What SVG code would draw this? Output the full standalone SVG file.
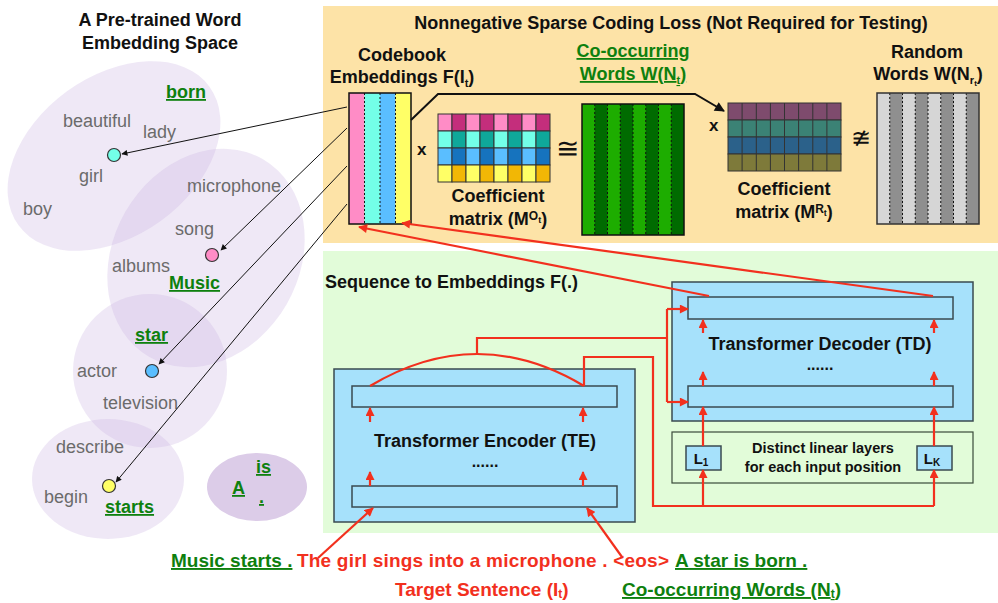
<svg xmlns="http://www.w3.org/2000/svg" width="998" height="603" viewBox="0 0 998 603">
<defs>
<style>
text{font-family:"Liberation Sans",Arial,Helvetica,sans-serif;}
.b{font-weight:bold;fill:#111;}
.t18{font-size:18px;}
.gw{font-size:18px;fill:#6b6b6b;}
.gb{font-size:18px;font-weight:bold;fill:#0e800e;text-decoration:underline;}
.red{fill:#f2301e;font-weight:bold;}
.ell{fill:#c9b3e0;fill-opacity:0.3;}
.dot{stroke:#333;stroke-width:1.2;}
.cell{stroke:#333;stroke-width:1;}
.sep{stroke:#111;stroke-width:1;stroke-dasharray:2,2;}
.box{fill:#a6e1fb;stroke:#3a4a50;stroke-width:1.5;}
.rl{fill:none;stroke:#f2301e;stroke-width:2.2;}
.bl{fill:none;stroke:#111;stroke-width:1;}
</style>
<marker id="ra" viewBox="0 0 10 10" refX="9" refY="5" markerUnits="userSpaceOnUse" markerWidth="10" markerHeight="9" orient="auto"><path d="M0,0L10,5L0,10z" fill="#f2301e"/></marker>
<marker id="ba" viewBox="0 0 10 10" refX="9" refY="5" markerUnits="userSpaceOnUse" markerWidth="7" markerHeight="6" orient="auto"><path d="M0,0L10,5L0,10z" fill="#111"/></marker>
<marker id="bA" viewBox="0 0 10 10" refX="9" refY="5" markerUnits="userSpaceOnUse" markerWidth="11" markerHeight="10" orient="auto"><path d="M0,0L10,5L0,10z" fill="#111"/></marker>
</defs>
<rect width="998" height="603" fill="#fff"/>

<g id="panel-nsc">
<rect x="323" y="6" width="675" height="237" fill="#fde3a7"/>
<text class="b t18" x="671" y="29" text-anchor="middle">Nonnegative Sparse Coding Loss (Not Required for Testing)</text>
</g>
<g id="panel-seq">
<rect x="323" y="251" width="675" height="282" fill="#e2fcd9"/>
<text class="b t18" x="325" y="288">Sequence to Embeddings F(.)</text>
</g>

<g id="embedding-space">
<text class="b t18" x="160" y="26" text-anchor="middle">A Pre-trained Word</text>
<text class="b t18" x="160" y="49" text-anchor="middle">Embedding Space</text>
<ellipse class="ell" cx="114" cy="156" rx="118" ry="80" transform="rotate(-36 114 156)"/>
<ellipse class="ell" cx="206" cy="258" rx="114" ry="93" transform="rotate(-60 206 258)"/>
<circle class="ell" cx="150" cy="371" r="77"/>
<ellipse class="ell" cx="108" cy="479" rx="76" ry="60"/>
<ellipse cx="257" cy="487" rx="50" ry="34" fill="#dccce8"/>
<text class="gb" x="166" y="98">born</text>
<text class="gw" x="63" y="127">beautiful</text>
<text class="gw" x="143" y="138">lady</text>
<text class="gw" x="79" y="182">girl</text>
<text class="gw" x="23" y="215">boy</text>
<text class="gw" x="187" y="192">microphone</text>
<text class="gw" x="175" y="235">song</text>
<text class="gw" x="112" y="272">albums</text>
<text class="gb" x="169" y="289">Music</text>
<text class="gb" x="135" y="341">star</text>
<text class="gw" x="77" y="377">actor</text>
<text class="gw" x="103" y="409">television</text>
<text class="gw" x="56" y="453">describe</text>
<text class="gw" x="44" y="503">begin</text>
<text class="gb" x="105" y="513">starts</text>
<text class="gb" x="256" y="473">is</text>
<text class="gb" x="232" y="494">A</text>
<text class="gb" x="259" y="503">.</text>
<circle class="dot" cx="114" cy="155" r="6.5" fill="#73ffe8"/>
<circle class="dot" cx="212" cy="255" r="6.5" fill="#ff8cc6"/>
<circle class="dot" cx="152" cy="371" r="6.5" fill="#5abeff"/>
<circle class="dot" cx="109" cy="486" r="6.5" fill="#ffff66"/>
</g>

<g id="codebook">
<text class="b t18" x="402" y="61" text-anchor="middle">Codebook</text>
<text class="b t18" x="402" y="83" text-anchor="middle">Embeddings F(I<tspan font-size="11" dy="4">t</tspan><tspan dy="-4">)</tspan></text>
<rect x="349" y="93" width="15.5" height="131" fill="#ff8cc6"/>
<rect x="364.5" y="93" width="15.5" height="131" fill="#73ffe8"/>
<rect x="380" y="93" width="15.5" height="131" fill="#5abeff"/>
<rect x="395.5" y="93" width="15.5" height="131" fill="#ffff66"/>
<line class="sep" x1="364.5" y1="93" x2="364.5" y2="224"/>
<line class="sep" x1="380" y1="93" x2="380" y2="224"/>
<line class="sep" x1="395.5" y1="93" x2="395.5" y2="224"/>
<rect x="349" y="93" width="62" height="131" fill="none" stroke="#111" stroke-width="1.5"/>
</g>

<text class="b" x="417" y="155" font-size="17">x</text>
<text x="567" y="158" font-size="28" text-anchor="middle" fill="#111" font-family="DejaVu Sans,sans-serif">≅</text>

<g id="coef-mo">
<g class="cell">
<rect x="438" y="114" width="14" height="17" fill="#ff8cc6"/><rect x="452" y="114" width="14" height="17" fill="#c42e7c"/><rect x="466" y="114" width="14" height="17" fill="#ff8cc6"/><rect x="480" y="114" width="14" height="17" fill="#c42e7c"/><rect x="494" y="114" width="14" height="17" fill="#ff8cc6"/><rect x="508" y="114" width="14" height="17" fill="#c42e7c"/><rect x="522" y="114" width="14" height="17" fill="#ff8cc6"/><rect x="536" y="114" width="14" height="17" fill="#c42e7c"/>
<rect x="438" y="131" width="14" height="17" fill="#73ffe8"/><rect x="452" y="131" width="14" height="17" fill="#0fa89a"/><rect x="466" y="131" width="14" height="17" fill="#73ffe8"/><rect x="480" y="131" width="14" height="17" fill="#0fa89a"/><rect x="494" y="131" width="14" height="17" fill="#73ffe8"/><rect x="508" y="131" width="14" height="17" fill="#0fa89a"/><rect x="522" y="131" width="14" height="17" fill="#73ffe8"/><rect x="536" y="131" width="14" height="17" fill="#0fa89a"/>
<rect x="438" y="148" width="14" height="17" fill="#5abeff"/><rect x="452" y="148" width="14" height="17" fill="#1673be"/><rect x="466" y="148" width="14" height="17" fill="#5abeff"/><rect x="480" y="148" width="14" height="17" fill="#1673be"/><rect x="494" y="148" width="14" height="17" fill="#5abeff"/><rect x="508" y="148" width="14" height="17" fill="#1673be"/><rect x="522" y="148" width="14" height="17" fill="#5abeff"/><rect x="536" y="148" width="14" height="17" fill="#1673be"/>
<rect x="438" y="165" width="14" height="17" fill="#ffff66"/><rect x="452" y="165" width="14" height="17" fill="#f2b705"/><rect x="466" y="165" width="14" height="17" fill="#ffff66"/><rect x="480" y="165" width="14" height="17" fill="#f2b705"/><rect x="494" y="165" width="14" height="17" fill="#ffff66"/><rect x="508" y="165" width="14" height="17" fill="#f2b705"/><rect x="522" y="165" width="14" height="17" fill="#ffff66"/><rect x="536" y="165" width="14" height="17" fill="#f2b705"/>
</g>
<text class="b t18" x="498" y="202" text-anchor="middle">Coefficient</text>
<text class="b t18" x="498" y="225" text-anchor="middle">matrix (M<tspan font-size="12" dy="-5">O</tspan><tspan font-size="9" dy="3">t</tspan><tspan dy="2">)</tspan></text>
</g>

<g id="cooccur-matrix">
<text class="gb" x="633" y="57" text-anchor="middle">Co-occurring</text>
<text class="gb" x="633" y="80" text-anchor="middle">Words W(N<tspan font-size="11" dy="4">t</tspan><tspan dy="-4">)</tspan></text>
<rect x="582" y="104" width="102" height="131" fill="#1dad00"/>
<rect x="594.75" y="104" width="12.75" height="131" fill="#006b00"/>
<rect x="620.25" y="104" width="12.75" height="131" fill="#006b00"/>
<rect x="645.75" y="104" width="12.75" height="131" fill="#006b00"/>
<rect x="671.25" y="104" width="12.75" height="131" fill="#006b00"/>
<g class="sep"><line x1="594.75" y1="104" x2="594.75" y2="235"/><line x1="607.5" y1="104" x2="607.5" y2="235"/><line x1="620.25" y1="104" x2="620.25" y2="235"/><line x1="633" y1="104" x2="633" y2="235"/><line x1="645.75" y1="104" x2="645.75" y2="235"/><line x1="658.5" y1="104" x2="658.5" y2="235"/><line x1="671.25" y1="104" x2="671.25" y2="235"/></g>
<rect x="582" y="104" width="102" height="131" fill="none" stroke="#111" stroke-width="1.5"/>
</g>

<text class="b" x="709" y="131" font-size="17">x</text>
<text x="861" y="146" font-size="24" text-anchor="middle" fill="#111" font-family="DejaVu Sans,sans-serif">≇</text>

<g id="coef-mr">
<g class="cell">
<rect x="728" y="103" width="113" height="17" fill="#7e4b6d"/>
<rect x="728" y="120" width="113" height="17" fill="#3b8275"/>
<rect x="728" y="137" width="113" height="17" fill="#2b618a"/>
<rect x="728" y="154" width="113" height="17" fill="#7e7a3a"/>
</g>
<g stroke="#333" stroke-width="1"><line x1="742.1" y1="103" x2="742.1" y2="171"/><line x1="756.3" y1="103" x2="756.3" y2="171"/><line x1="770.4" y1="103" x2="770.4" y2="171"/><line x1="784.5" y1="103" x2="784.5" y2="171"/><line x1="798.6" y1="103" x2="798.6" y2="171"/><line x1="812.8" y1="103" x2="812.8" y2="171"/><line x1="826.9" y1="103" x2="826.9" y2="171"/></g>
<text class="b t18" x="784" y="195" text-anchor="middle">Coefficient</text>
<text class="b t18" x="784" y="218" text-anchor="middle">matrix (M<tspan font-size="12" dy="-5">R</tspan><tspan font-size="9" dy="3">t</tspan><tspan dy="2">)</tspan></text>
</g>

<g id="random-matrix">
<text class="b t18" x="927" y="58" text-anchor="middle">Random</text>
<text class="b t18" x="928" y="80" text-anchor="middle">Words W(N<tspan font-size="11" dy="4">r</tspan><tspan font-size="8" dy="2">t</tspan><tspan dy="-6">)</tspan></text>
<rect x="877" y="93" width="102" height="131" fill="#d6d6d6"/>
<rect x="889.75" y="93" width="12.75" height="131" fill="#8f8f8f"/>
<rect x="915.25" y="93" width="12.75" height="131" fill="#8f8f8f"/>
<rect x="940.75" y="93" width="12.75" height="131" fill="#8f8f8f"/>
<rect x="966.25" y="93" width="12.75" height="131" fill="#8f8f8f"/>
<g class="sep"><line x1="889.75" y1="93" x2="889.75" y2="224"/><line x1="902.5" y1="93" x2="902.5" y2="224"/><line x1="915.25" y1="93" x2="915.25" y2="224"/><line x1="928" y1="93" x2="928" y2="224"/><line x1="940.75" y1="93" x2="940.75" y2="224"/><line x1="953.5" y1="93" x2="953.5" y2="224"/><line x1="966.25" y1="93" x2="966.25" y2="224"/></g>
<rect x="877" y="93" width="102" height="131" fill="none" stroke="#333" stroke-width="1.5"/>
</g>

<g id="encoder">
<rect class="box" x="334" y="369" width="301" height="153"/>
<rect class="box" x="352" y="386" width="265" height="21"/>
<rect class="box" x="352" y="486" width="265" height="21"/>
<text class="b t18" x="485" y="447" text-anchor="middle">Transformer Encoder (TE)</text>
<text class="b" x="485" y="467" font-size="16" text-anchor="middle">......</text>
</g>

<g id="decoder">
<rect class="box" x="672" y="282" width="301" height="139"/>
<rect class="box" x="688" y="297" width="265" height="22"/>
<rect class="box" x="688" y="386" width="265" height="21"/>
<text class="b t18" x="820" y="350" text-anchor="middle">Transformer Decoder (TD)</text>
<text class="b" x="820" y="370" font-size="16" text-anchor="middle">......</text>
</g>

<g id="linear-layers">
<rect x="672" y="432" width="301" height="51" fill="#e2fcd9" stroke="#3a4a3a" stroke-width="1.2"/>
<rect class="box" x="686" y="446" width="35" height="24"/>
<rect class="box" x="917" y="446" width="35" height="24"/>
<text class="b" x="701" y="464" font-size="15" text-anchor="middle">L<tspan font-size="10" dy="2">1</tspan></text>
<text class="b" x="932" y="464" font-size="15" text-anchor="middle">L<tspan font-size="10" dy="2">K</tspan></text>
<text class="b" x="823" y="453" font-size="14.5" text-anchor="middle">Distinct linear layers</text>
<text class="b" x="823" y="472" font-size="14.5" text-anchor="middle">for each input position</text>
</g>

<g id="sentence">
<text class="gb" x="171" y="567" style="font-size:19px">Music starts .</text>
<text class="red" x="297" y="567" font-size="19" textLength="372" lengthAdjust="spacing">The girl sings into a microphone . &lt;eos&gt;</text>
<text class="gb" x="675" y="567" style="font-size:19px">A star is born .</text>
<text class="red" x="395" y="596" font-size="19">Target Sentence (I<tspan font-size="12" dy="2">t</tspan><tspan dy="-2">)</tspan></text>
<text class="gb" x="622" y="596" style="font-size:19px">Co-occurring Words (N<tspan font-size="12" dy="2">t</tspan><tspan dy="-2">)</tspan></text>
</g>

<g id="connectors">
<line class="bl" x1="347" y1="107" x2="122" y2="154" marker-end="url(#ba)"/>
<line class="bl" x1="347" y1="128" x2="221" y2="250" marker-end="url(#ba)"/>
<line class="bl" x1="347" y1="166" x2="159" y2="364" marker-end="url(#ba)"/>
<line class="bl" x1="347" y1="204" x2="116" y2="482" marker-end="url(#ba)"/>
<polyline points="411,120 438,94 695,94 724,111" fill="none" stroke="#111" stroke-width="2" marker-end="url(#bA)"/>
<line class="rl" x1="709" y1="296" x2="359" y2="227" marker-end="url(#ra)"/>
<line class="rl" x1="933" y1="296" x2="402" y2="223" marker-end="url(#ra)"/>
<path class="rl" d="M370,386 Q477,322 584,386"/>
<polyline class="rl" points="477,354 477,338 667,338"/>
<polyline class="rl" points="667,309 667,402"/>
<line class="rl" x1="667" y1="309" x2="688" y2="309" marker-end="url(#ra)"/>
<line class="rl" x1="667" y1="402" x2="688" y2="402" marker-end="url(#ra)"/>
<polyline class="rl" points="584,386 584,357 653,357 653,506 934,506"/>
<line class="rl" x1="703" y1="506" x2="703" y2="470" marker-end="url(#ra)"/>
<line class="rl" x1="934" y1="506" x2="934" y2="470" marker-end="url(#ra)"/>
<line class="rl" x1="703" y1="446" x2="703" y2="407" marker-end="url(#ra)"/>
<line class="rl" x1="934" y1="446" x2="934" y2="407" marker-end="url(#ra)"/>
<line class="rl" x1="703" y1="333" x2="703" y2="320" marker-end="url(#ra)"/>
<line class="rl" x1="934" y1="333" x2="934" y2="320" marker-end="url(#ra)"/>
<line class="rl" x1="703" y1="386" x2="703" y2="372" marker-end="url(#ra)"/>
<line class="rl" x1="934" y1="386" x2="934" y2="372" marker-end="url(#ra)"/>
<line class="rl" x1="370" y1="422" x2="370" y2="408" marker-end="url(#ra)"/>
<line class="rl" x1="583" y1="422" x2="583" y2="408" marker-end="url(#ra)"/>
<line class="rl" x1="370" y1="486" x2="370" y2="472" marker-end="url(#ra)"/>
<line class="rl" x1="583" y1="486" x2="583" y2="472" marker-end="url(#ra)"/>
<line class="rl" x1="318" y1="558" x2="373" y2="508" marker-end="url(#ra)"/>
<line class="rl" x1="622" y1="557" x2="587" y2="508" marker-end="url(#ra)"/>
</g>
</svg>
